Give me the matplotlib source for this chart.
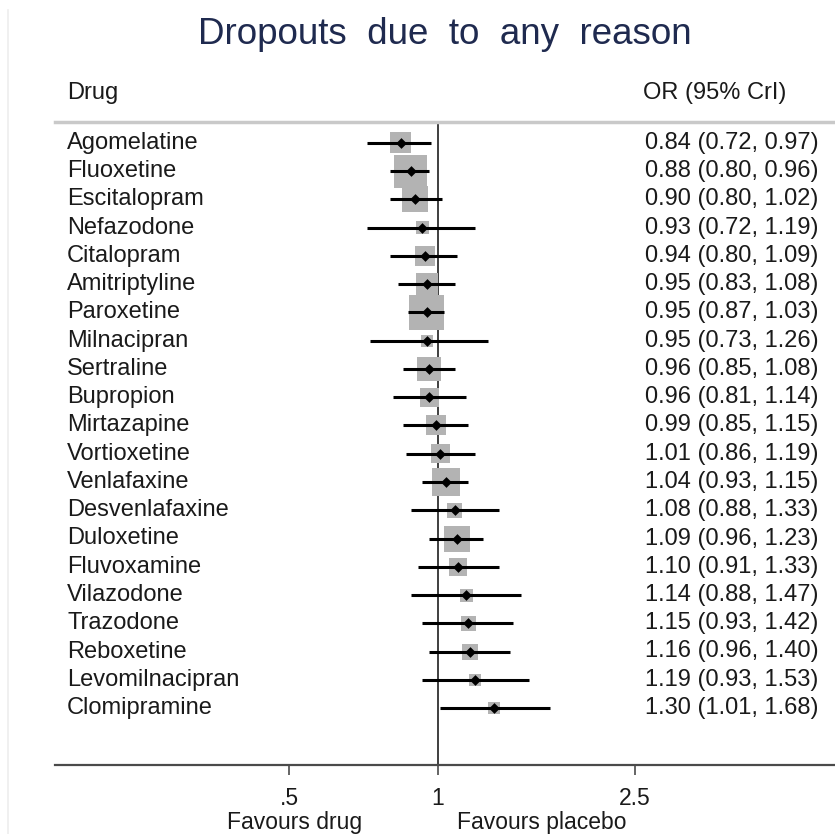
import matplotlib
matplotlib.use('Agg')
import matplotlib.pyplot as plt
import numpy as np
from matplotlib.lines import Line2D

plt.rcParams['font.family'] = ['Liberation Sans', 'DejaVu Sans']

drugs = ['Agomelatine', 'Fluoxetine', 'Escitalopram', 'Nefazodone', 'Citalopram',
         'Amitriptyline', 'Paroxetine', 'Milnacipran', 'Sertraline', 'Bupropion',
         'Mirtazapine', 'Vortioxetine', 'Venlafaxine', 'Desvenlafaxine', 'Duloxetine',
         'Fluvoxamine', 'Vilazodone', 'Trazodone', 'Reboxetine', 'Levomilnacipran',
         'Clomipramine']
or_est = [0.84, 0.88, 0.90, 0.93, 0.94, 0.95, 0.95, 0.95, 0.96, 0.96, 0.99,
          1.01, 1.04, 1.08, 1.09, 1.10, 1.14, 1.15, 1.16, 1.19, 1.30]
ci_low = [0.72, 0.80, 0.80, 0.72, 0.80, 0.83, 0.87, 0.73, 0.85, 0.81, 0.85,
          0.86, 0.93, 0.88, 0.96, 0.91, 0.88, 0.93, 0.96, 0.93, 1.01]
ci_high = [0.97, 0.96, 1.02, 1.19, 1.09, 1.08, 1.03, 1.26, 1.08, 1.14, 1.15,
           1.19, 1.15, 1.33, 1.23, 1.33, 1.47, 1.42, 1.40, 1.53, 1.68]
# relative study weights (square side)
weights = [21, 33, 26, 13, 20, 22, 35, 12, 24, 19, 20, 19, 28, 15, 26, 18,
           13, 15, 16, 12, 12]
xticks = [0.5, 1, 2.5]
xtick_labels = ['.5', '1', '2.5']

W, H = 835, 834
fig = plt.figure(figsize=(W / 100, H / 100), dpi=100)
fig.patch.set_facecolor('white')

ax_left, ax_right, ax_top, ax_bottom = 55, 835, 122, 765
ax = fig.add_axes([ax_left / W, 1 - ax_bottom / H, (ax_right - ax_left) / W,
                   (ax_bottom - ax_top) / H])
ax.set_xscale('log')
ppl = 215.0  # px per ln unit
x1px = 438
ax.set_xlim(np.exp((ax_left - x1px) / ppl), np.exp((ax_right - x1px) / ppl))
n = len(drugs)
row0, rowstep = 143, 28.25
ax.set_ylim(n - 1 + (ax_bottom - (row0 + rowstep * (n - 1))) / rowstep,
            -(row0 - ax_top) / rowstep)

y = np.arange(n)
side_pt = np.array(weights) * 0.72
ax.scatter(or_est, y, s=side_pt ** 2, marker='s', color='#b3b3b3',
           linewidths=0, zorder=2)
ax.hlines(y, ci_low, ci_high, color='black', lw=2.2, zorder=3)
ax.scatter(or_est, y, s=30, marker='D', color='black', linewidths=0, zorder=4)
ax.axvline(1, color='#303030', lw=1.3, zorder=1)

for s in ['left', 'right']:
    ax.spines[s].set_visible(False)
ax.spines['top'].set_color('#c9c9c9')
ax.spines['top'].set_linewidth(2.5)
ax.spines['bottom'].set_color('#4a4a4a')
ax.spines['bottom'].set_linewidth(1.6)
ax.set_yticks([])
ax.set_xticks(xticks)
ax.set_xticklabels(xtick_labels)
ax.minorticks_off()
ax.tick_params(axis='x', length=7, width=1.2, color='#4a4a4a', pad=9,
               labelsize=16.5, labelcolor='#1a1a1a')

tr = ax.get_yaxis_transform()
for i, d in enumerate(drugs):
    ax.text((67 - ax_left) / (ax_right - ax_left), i, d, transform=tr,
            ha='left', va='center', fontsize=17, color='#1a1a1a')
    ax.text((645 - ax_left) / (ax_right - ax_left), i,
            f'{or_est[i]:.2f} ({ci_low[i]:.2f}, {ci_high[i]:.2f})',
            transform=tr, ha='left', va='center', fontsize=17, color='#1a1a1a')

fig.text(445 / W, 1 - 35 / H, 'Dropouts  due  to  any  reason', ha='center',
         va='center', fontsize=26.5, color='#1f2a4f')
fig.text(67 / W, 1 - 93 / H, 'Drug', ha='left', va='center', fontsize=17,
         color='#1a1a1a')
fig.text(643 / W, 1 - 93 / H, 'OR (95% CrI)', ha='left', va='center',
         fontsize=17, color='#1a1a1a')
fig.text(295 / W, 1 - 822 / H, 'Favours drug', ha='center', va='center',
         fontsize=16.5, color='#1a1a1a')
fig.text(542 / W, 1 - 822 / H, 'Favours placebo', ha='center', va='center',
         fontsize=16.5, color='#1a1a1a')

fig.add_artist(Line2D([8 / W, 8 / W], [0.0, 1 - 10 / H], color='#ededed',
                      lw=1.2, transform=fig.transFigure))

fig.savefig('out.png', dpi=100, facecolor='white')
